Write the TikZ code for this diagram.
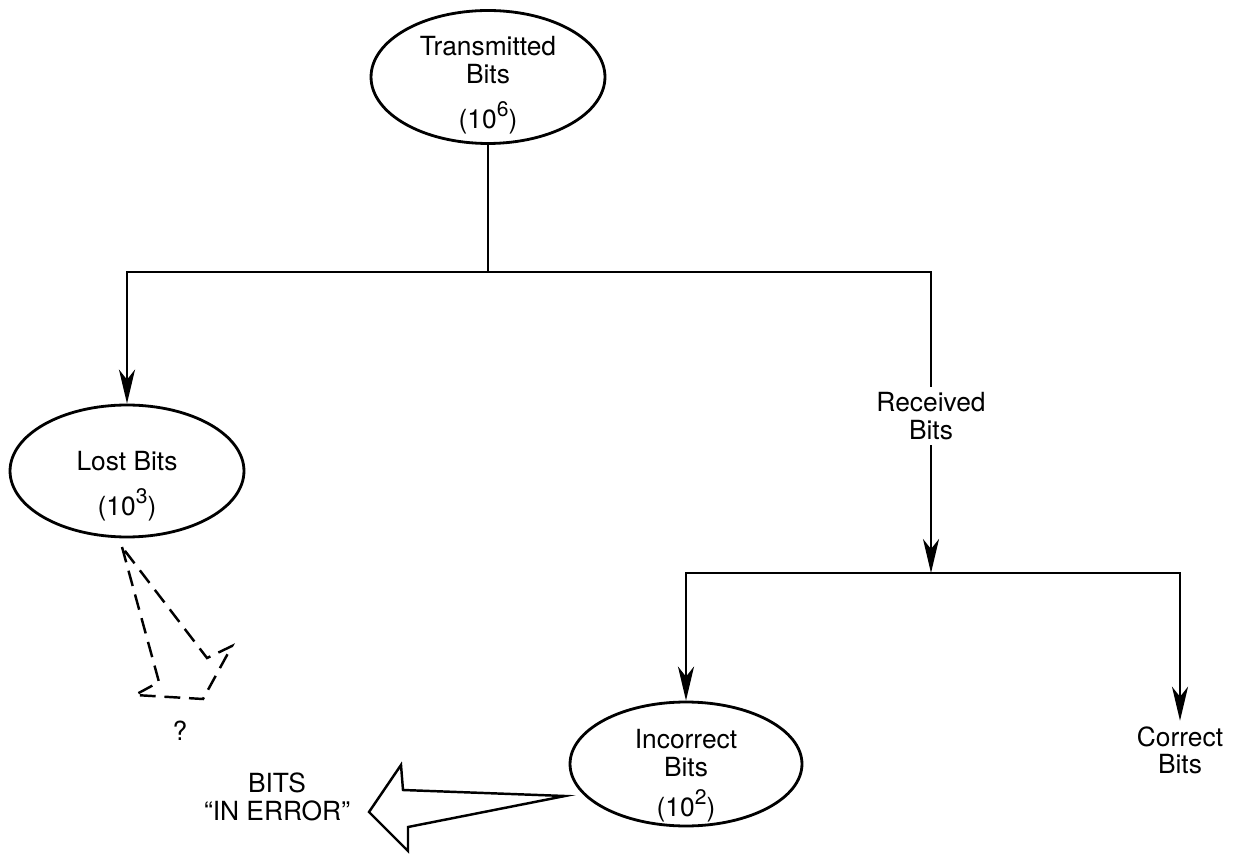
\documentclass[tikz,border=0pt]{standalone}
\usepackage{fontspec}
\setmainfont{TeX Gyre Heros}
\usetikzlibrary{arrows.meta,shapes.geometric}
\newcommand{\sups}[1]{\raisebox{0.45em}[0pt][0pt]{\fontsize{12}{12}\selectfont #1}}
\newcommand{\bitcount}[2]{\raisebox{-#2}[0pt][0pt]{\begin{tabular}{@{}c@{}}#1\end{tabular}}}

\begin{document}
\begin{tikzpicture}[
  x=0.02cm, y=-0.02cm,
  >={Stealth[length=0.68cm,width=0.32cm,inset=0.2cm]},
  line/.style={line width=1.6pt},
  bitnode/.style={ellipse, draw, line width=1.6pt, inner sep=0pt,
    minimum width=4.68cm, minimum height=2.66cm,
    font=\fontsize{15}{16}\selectfont},
  txt/.style={align=center, inner sep=3pt, font=\fontsize{15}{15.5}\selectfont},
  lossmark/.style={line width=1.4pt, dash pattern=on 9pt off 5pt},
  bigarrow/.style={line width=1.4pt, line join=miter}
]
  \useasboundingbox (0,0) rectangle (1237,854);

  % bit counts
  \node[bitnode] (trans) at (488,77) {\bitcount{Transmitted\\Bits\\[9.5pt](10\sups{6})}{8.8pt}};
  \node[bitnode, minimum height=2.64cm] (lost) at (127,471) {\bitcount{Lost Bits\\[9.5pt](10\sups{3})}{12.7pt}};
  \node[bitnode, minimum width=4.64cm, minimum height=2.48cm] (incorrect) at (686,764)
    {\bitcount{Incorrect\\Bits\\[6.7pt](10\sups{2})}{10.8pt}};
  \node[txt] (received) at (931,416) {Received\\Bits};
  \node[txt] (correct) at (1180,750) {Correct\\Bits};

  \coordinate (split) at (488,272);
  \coordinate (rsplit) at (931,573);

  % branches
  \draw[line] (trans) -- (split);
  \draw[line,->] (split) -| (lost);
  \draw[line] (split) -| (received);
  \draw[line,->] (received) -- (rsplit);
  \draw[line,->] (rsplit) -| (incorrect);
  \draw[line,->] (rsplit) -| (correct);

  % lost bits go nowhere
  \draw[lossmark] (122,547) -- (159,682) -- (135,695) -- (203,699) -- (232,646) -- (207,658) -- cycle;
  \node[txt] (query) at (180,731) {?};

  % bits in error
  \draw[bigarrow] (369,812) -- (401,765) -- (403,790) -- (565,796) -- (408,827) -- (408,851) -- cycle;
  \node[txt] (error) at (277,797) {BITS\\“IN ERROR”};
\end{tikzpicture}
\end{document}
